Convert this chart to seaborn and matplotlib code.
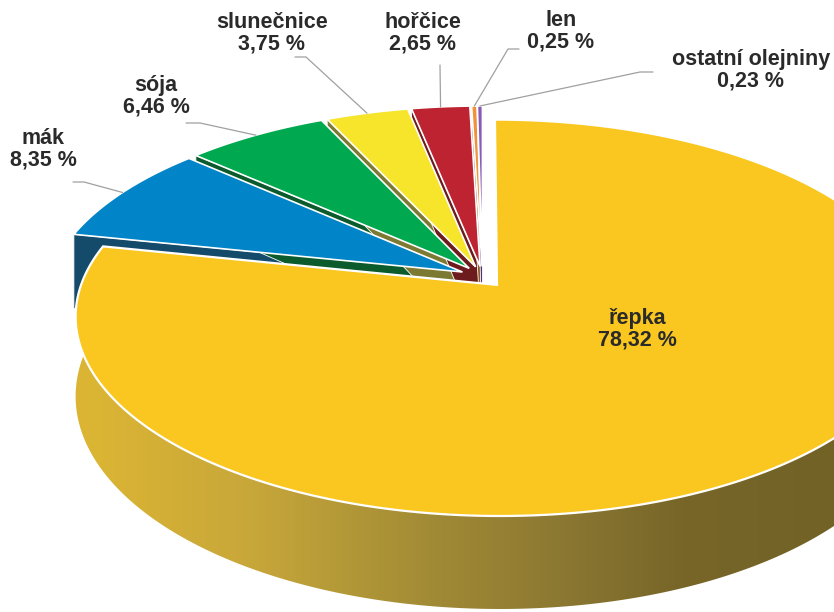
import numpy as np
import seaborn as sns
import matplotlib
matplotlib.use("Agg")
import matplotlib.pyplot as plt
from matplotlib.patches import Polygon
from matplotlib.colors import LinearSegmentedColormap

# Data
crops = ["řepka", "mák", "sója", "slunečnice", "hořčice", "len", "ostatní olejniny"]
shares = [78.32, 8.35, 6.46, 3.75, 2.65, 0.25, 0.23]

# Colours (top face / cut face)
top_colors = ["#F9C720", "#0284C8", "#00A94F", "#F6E52B", "#BE2331", "#F0913C", "#8A5BB5"]
side_colors = ["#9A8434", "#144B6A", "#0B5B2D", "#7C7A32", "#6E1B1E", "#8A5A2A", "#4F3570"]

# Label layout in pixels: text centre, leader start, leader elbow
label_pos = {
    "řepka": (637, 329),
    "mák": (43, 149),
    "sója": (156, 96),
    "slunečnice": (272, 33),
    "hořčice": (423, 33),
    "len": (561, 31),
    "ostatní olejniny": (751, 70),
}
leader_pts = {
    "mák": [(73, 182), (84, 182)],
    "sója": [(186, 123), (200, 123)],
    "slunečnice": [(295, 57), (306, 57)],
    "hořčice": [(440, 65), (440, 66)],
    "len": [(519, 49), (508, 49)],
    "ostatní olejniny": [(653, 72), (640, 72)],
}

# Perspective pie geometry (pixel space)
X0, Y0 = 482.6, 276.7
A, B, K = 413, 190, 0.165
DEPTH = 77
EXPLODE = 0.055

fracs = np.array(shares) / sum(shares)
starts = 90 - 360 * np.concatenate([[0], np.cumsum(fracs)[:-1]])
ends = starts - 360 * fracs
mids = (starts + ends) / 2


def project(u, v, z=0.0):
    den = 1 + K * v
    return X0 + A * u / den, Y0 - B * v / den + DEPTH * z / den


def offset(i):
    m = np.radians(mids[i])
    return EXPLODE * np.cos(m), EXPLODE * np.sin(m)


def rim(i, t_deg, z=0.0):
    ou, ov = offset(i)
    t = np.radians(np.atleast_1d(t_deg))
    x, y = project(np.cos(t) + ou, np.sin(t) + ov, z)
    return np.column_stack([x, y])


def apex(i, z=0.0):
    ou, ov = offset(i)
    x, y = project(ou, ov, z)
    return np.array([[x, y]])


sns.set_theme(style="white")
plt.rcParams["font.family"] = ["Liberation Sans", "DejaVu Sans"]

fig = plt.figure(figsize=(8.34, 6.12), dpi=100)
ax = fig.add_axes([0, 0, 1, 1])
ax.set_xlim(0, 834)
ax.set_ylim(612, 0)
ax.axis("off")

n = len(crops)

# cut faces of the small slices (start edge faces the viewer)
for i in range(1, n):
    top_c = rim(i, starts[i])
    bot_c = rim(i, starts[i], 1)
    pts = np.vstack([apex(i), top_c, bot_c, apex(i, 1)])
    ax.add_patch(Polygon(pts, closed=True, facecolor=side_colors[i],
                         edgecolor="white", linewidth=0.6, zorder=1))

# top faces of the small slices
for i in range(1, n):
    arc = rim(i, np.linspace(starts[i], ends[i], 120))
    pts = np.vstack([apex(i), arc])
    ax.add_patch(Polygon(pts, closed=True, facecolor=top_colors[i],
                         edgecolor="white", linewidth=1.2, zorder=2))

# outer wall of the big slice with horizontal shading
t_wall = np.linspace(-192, 12, 300)
wall = np.vstack([rim(0, t_wall), rim(0, t_wall[::-1], 1)])
wall_patch = Polygon(wall, closed=True, facecolor="none", edgecolor="none", zorder=3)
ax.add_patch(wall_patch)
wall_cmap = LinearSegmentedColormap.from_list(
    "wall",
    [(0.0, "#E2B830"), (0.12, "#DAB434"), (0.3, "#C8A73A"), (0.5, "#A48D36"),
     (0.72, "#857230"), (0.82, "#776628"), (1.0, "#736226")],
)
grad = np.linspace(0, 1, 400).reshape(1, -1)
im = ax.imshow(grad, extent=[0, 834, 612, 0], aspect="auto", cmap=wall_cmap, zorder=3)
im.set_clip_path(wall_patch)

# top face of the big slice
arc0 = rim(0, np.linspace(starts[0], ends[0], 400))
ax.add_patch(Polygon(np.vstack([apex(0), arc0]), closed=True, facecolor=top_colors[0],
                     edgecolor="white", linewidth=1.6, zorder=4))

# labels and leader lines
for i, name in enumerate(crops):
    val = f"{shares[i]:.2f}".replace(".", ",") + " %"
    x, y = label_pos[name]
    ax.text(x, y, f"{name}\n{val}", ha="center", va="center", fontsize=15.5,
            fontweight="bold", color="#2A2A2A", linespacing=1.05, zorder=6)
    if name in leader_pts:
        end = rim(i, mids[i])[0]
        pts = np.array(leader_pts[name] + [tuple(end)])
        ax.plot(pts[:, 0], pts[:, 1], color="#A0A0A0", linewidth=0.9, zorder=5)

fig.savefig("out.png", dpi=100)
